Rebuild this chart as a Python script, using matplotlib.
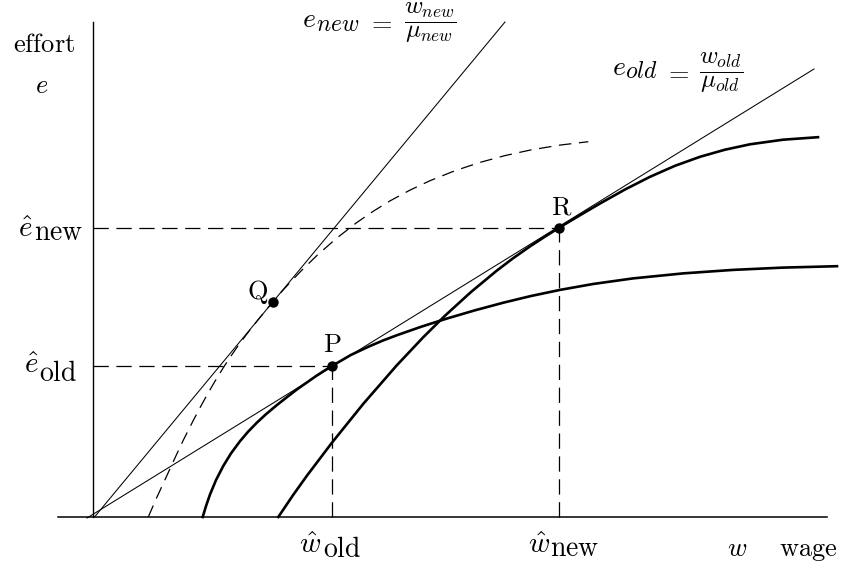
import numpy as np
import matplotlib
matplotlib.use("Agg")
import matplotlib.pyplot as plt

plt.rcParams['mathtext.fontset'] = 'cm'
plt.rcParams['lines.scale_dashes'] = False

# curves (w = wage, e = effort)
old_curve_w = [109.7, 113, 117, 123, 130.3, 138, 147, 155, 163.7, 173, 183.7, 193,
               203.7, 213, 223.7, 231, 238.7, 258, 277, 290, 303.7, 328, 353.7,
               382, 410.3, 438, 467, 500, 540, 590, 640, 690, 744]
old_curve_e = [0, 10.9, 22.5, 36.9, 51.1, 63.6, 75.8, 85.2, 94.2, 102.8, 111.8, 119.1,
               127.4, 133.9, 141.4, 146.1, 150.9, 162.1, 171, 176.5, 181.7, 190.2, 198.4,
               206.7, 214.3, 221, 227.1, 233, 238.6, 243.6, 247.1, 249.4, 250.8]

new_curve_w = [185.3, 200, 213.7, 238.7, 270.3, 303.7, 330, 352, 378, 403.7, 420,
               437, 452, 466, 486, 507, 532, 557, 582, 607, 632, 657, 690, 725]
new_curve_e = [0, 21.8, 41, 74, 113.2, 151.6, 179.5, 201.3, 225, 246.3, 258.7,
               270.6, 280.4, 289.2, 301.2, 313.5, 327.5, 340.2, 351.2, 360.2, 367.3,
               372.7, 377.3, 379.8]

shift_curve_w = [55.3, 60, 64, 70, 75.3, 83, 90.3, 100.3, 107, 113.7, 122, 130, 137.5,
                 145, 153, 162, 171, 179.7, 188, 197, 210, 223.7, 243, 263.7, 280,
                 297, 317, 337, 362, 387, 412, 437, 466, 495.3]
shift_curve_e = [0, 10.9, 20, 33, 44.5, 61.3, 76.8, 96.6, 109.3, 121.5, 135.8, 148.8,
                 160.3, 171.1, 181.9, 193.4, 204.5, 214.9, 224.6, 234.5, 248, 261.3,
                 278.3, 294.4, 305.6, 316.1, 326.9, 336.3, 346.3, 354.6, 361.4, 366.9,
                 371.8, 375.3]

# rays e = w / mu
old_ray_w = [-6, 721]
old_ray_e = [-1, 448]
new_ray_w = [1.5, 412]
new_ray_e = [0, 495]

# tangency points
P = (238.7, 151)
Q = (179.7, 214.9)
R = (466, 289.5)

fig = plt.figure(figsize=(8.41, 5.63), dpi=100)
ax = fig.add_axes([0, 0, 1, 1])
ax.set_xlim(-93, 748)
ax.set_ylim(-46, 517)
ax.axis('off')

# axes
ax.plot([-34.7, 734], [0, 0], color='black', lw=1.1)
ax.plot([0, 0], [0, 495], color='black', lw=1.0)

# rays
ax.plot(old_ray_w, old_ray_e, color='black', lw=0.75)
ax.plot(new_ray_w, new_ray_e, color='black', lw=0.75)

# effort curves
ax.plot(old_curve_w, old_curve_e, color='black', lw=1.9, solid_joinstyle='round')
ax.plot(new_curve_w, new_curve_e, color='black', lw=1.9, solid_joinstyle='round')
ax.plot(shift_curve_w, shift_curve_e, color='black', lw=0.9, dashes=(9, 5.5))

# guide lines
for pt in (P, R):
    ax.plot([0, pt[0]], [pt[1], pt[1]], color='black', lw=0.9, dashes=(11, 5.5))
    ax.plot([pt[0], pt[0]], [0, pt[1]], color='black', lw=0.9, dashes=(11, 5.5))

# points
for pt in (P, Q, R):
    ax.plot(pt[0], pt[1], 'o', color='black', ms=6.5)


def sublabel(w, e, main, w_sub, e_sub, sub, fs_main=21, fs_sub=20):
    ax.text(w, e, main, fontsize=fs_main, ha='left', va='baseline')
    ax.text(w_sub, e_sub, sub, fontsize=fs_sub, ha='left', va='baseline')


fs = 19
ax.text(P[0] + 1, P[1] + 21, r'$\mathrm{P}$', fontsize=fs, ha='center', va='center')
ax.text(Q[0] - 15, Q[1] + 10, r'$\mathrm{Q}$', fontsize=fs, ha='center', va='center')
ax.text(R[0] + 3, R[1] + 20, r'$\mathrm{R}$', fontsize=fs, ha='center', va='center')

ax.text(-49, 472, r'$\mathrm{effort}$', fontsize=fs, ha='center', va='center')
ax.text(-51, 431, r'$e$', fontsize=fs, ha='center', va='center')

# ray labels
sublabel(209, 490.3, r'$e$', 223, 486, r'$new$', fs_main=20, fs_sub=17)
ax.text(287, 494.3, r'$=$', fontsize=19, ha='center', va='center')
ax.text(311, 494.3, r'$\dfrac{w_{new}}{\mu_{new}}$', fontsize=18, ha='left', va='center')

sublabel(519, 442, r'$e$', 532, 439, r'$old$', fs_main=20, fs_sub=17)
ax.text(584, 443.7, r'$=$', fontsize=19, ha='center', va='center')
ax.text(606, 443.7, r'$\dfrac{w_{old}}{\mu_{old}}$', fontsize=18, ha='left', va='center')

# hatted labels on the axes
sublabel(-75, 280.3, r'$\hat{e}$', -59, 277, r'$\mathrm{new}$')
sublabel(-69, 143.7, r'$\hat{e}$', -54.5, 136, r'$\mathrm{old}$')
sublabel(206, -35.6, r'$\hat{w}$', 230, -40, r'$\mathrm{old}$')
sublabel(435, -35.6, r'$\hat{w}$', 457, -39, r'$\mathrm{new}$')

ax.text(644, -39, r'$w$', fontsize=fs, ha='center', va='baseline')
ax.text(715, -39, r'$\mathrm{wage}$', fontsize=fs, ha='center', va='baseline')

fig.savefig('out.png', dpi=100)
